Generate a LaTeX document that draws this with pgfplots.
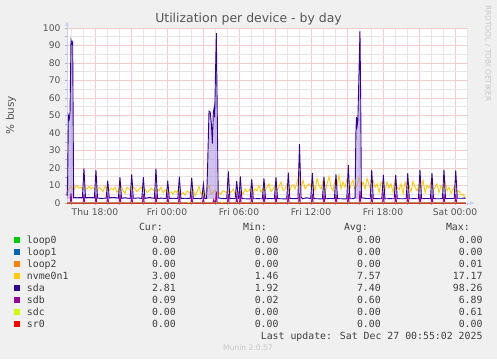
\documentclass[border=0pt]{standalone}
\usepackage{pgfplots}
\pgfplotsset{compat=1.18}
\usepackage{pgfplotstable}
\usetikzlibrary{arrows.meta}
\usepackage{fontspec}
\setmainfont{DejaVu Sans}
\newfontfamily\mono{DejaVu Sans Mono}
\definecolor{bg}{HTML}{F0F0F0}
\definecolor{mgrid}{HTML}{F4CCCC}
\definecolor{mingrid}{HTML}{E6E6E6}
\definecolor{axblue}{HTML}{C8D0F4}
\definecolor{txt}{HTML}{555555}
\definecolor{leg}{HTML}{404040}
\definecolor{cloopa}{HTML}{00CC00}
\definecolor{cloopb}{HTML}{0066B3}
\definecolor{cloopc}{HTML}{FF8000}
\definecolor{cnvme}{HTML}{FFCC00}
\definecolor{csda}{HTML}{330099}
\definecolor{csdb}{HTML}{990099}
\definecolor{csdc}{HTML}{CCFF00}
\definecolor{csr}{HTML}{FF0000}
\definecolor{sdafill}{HTML}{A890DE}
\definecolor{sdbfill}{HTML}{D890D8}
\pagecolor{bg}

\pgfplotstableread{
v
5.5
8
9.5
7
9
10
8.5
9
7.5
9
8
9.5
8
9
8
7.5
9
8
6.5
9.5
8
7
8.5
7.5
9
6
8.5
10
7
5.5
9
8
7
9.5
8
6.5
8
9
7.5
8
6
7
8.5
7.5
6.5
8
7
9
6
7.5
7
5.5
6.5
5
7
6
8.5
5
6
4.5
7
6
5.5
8
4
6.5
9.5
5
7
3.5
8
10
5
6
7.5
4
6
5
7
6.5
5.5
7
6
8
5
6.5
6
7
5
8
6.5
7
9
5.5
8
7
10
6
8.5
7
9
11
6.5
8
10
7
9.5
12
7
8
11
6
9
10.5
8
12
17.17
9
13
8
10
11
9
12
7
14
10
8
12.5
6
11
15
9
7
13
10
16
8
12
9
14
6
11
13
7.5
10
15
9
12
8
14
10.5
7
13
9
11
6
12
10
7
12
8.5
11
6
13
9
7.5
11
5
12
8
10
6.5
12.5
9
7
11
8
13
6
10
8.5
12
7
9
11
6
10
8
12
7
9
5.5
8
10
6
7
4.5
5
3
}\nvme

\pgfplotstableread{
t v
15.67 4
15.72 12
15.78 50
15.86 48
15.92 52
16.0 93
16.08 91
16.14 92
16.22 3.2
16.5 3.0
16.8 3.1
16.95 3
17.08 19.8
17.21 3
17.6 3.2
17.95 3
18.08 18.8
18.21 2.9
18.5 2.6
18.93 2.8
19.06 12.8
19.19 2.9
19.5 3.3
19.95 2.8
20.08 14.7
20.21 2.7
20.5 3.0
20.93 2.6
21.06 16.4
21.19 2.7
21.6 2.9
21.9 2.6
22.03 14.7
22.16 2.6
22.5 3.2
22.95 2.7
23.08 19.6
23.21 2.6
23.5 2.8
23.93 2.6
24.06 12.8
24.19 2.6
24.5 2.7
24.9 2.5
25.03 15
25.16 2.6
25.5 2.7
25.93 2.6
26.06 14.5
26.19 2.5
26.5 2.6
26.9 2.5
27.03 10.8
27.16 2.5
27.3 2.6
27.38 20
27.5 52.5
27.6 52
27.7 45
27.78 34
27.86 52
27.92 54
27.97 49
28.03 70
28.11 97
28.19 50
28.27 3
28.6 2.5
28.98 2.5
29.11 18
29.24 2.5
29.5 2.6
29.68 2.5
29.81 12.5
29.94 2.6
30.0 2.6
30.11 15.2
30.24 2.5
30.6 2.4
30.93 2.4
31.06 13.5
31.19 2.4
31.6 2.5
31.95 2.4
32.08 14
32.21 2.4
32.6 2.6
32.95 2.4
33.08 14.7
33.21 2.5
33.6 2.4
33.98 2.4
34.11 17.3
34.24 2.6
34.6 2.5
34.91 2.5
35.04 33.7
35.17 3.5
35.3 2.4
35.6 3.0
35.98 2.6
36.11 17
36.24 2.5
36.6 2.4
36.95 2.4
37.08 15
37.21 2.4
37.6 2.6
37.95 2.5
38.08 16.4
38.21 2.5
38.6 2.4
38.98 2.4
39.11 21.7
39.24 2.4
39.55 2.5
39.67 3
39.74 40
39.79 49
39.84 44
39.9 47
40.0 75
40.08 98.26
40.14 60
40.2 3
40.6 2.6
40.93 2.5
41.06 18.9
41.19 2.5
41.6 2.5
41.9 2.4
42.03 16
42.16 2.4
42.6 2.5
42.93 2.4
43.06 16
43.19 2.5
43.6 2.4
43.93 2.5
44.06 17
44.19 2.4
44.6 2.5
44.95 2.4
45.08 18.9
45.21 2.4
45.6 2.6
45.95 2.4
46.08 17
46.21 2.5
46.6 2.4
46.95 2.5
47.08 19
47.21 2.5
47.6 2.6
47.93 2.6
48.06 18.6
48.19 2.7
48.5 2.7
48.89 2.81
}\sda

\pgfplotstableread{
t v
15.67 0.1
15.93 0.1
16.0 5.5
16.07 0.1
17.01 0.1
17.08 5
17.15 0.1
18.01 0.1
18.08 4.5
18.15 0.1
18.99 0.1
19.06 4
19.13 0.1
20.01 0.1
20.08 5
20.15 0.1
20.99 0.1
21.06 4.5
21.13 0.1
21.96 0.1
22.03 5
22.1 0.1
23.01 0.1
23.08 4.5
23.15 0.1
23.99 0.1
24.06 4
24.13 0.1
24.96 0.1
25.03 4.5
25.1 0.1
25.99 0.1
26.06 4
26.13 0.1
26.96 0.1
27.03 3
27.1 0.1
27.83 0.1
27.9 2
27.97 0.1
28.04 0.1
28.11 6.5
28.18 0.1
29.04 0.1
29.11 5
29.18 0.1
29.74 0.1
29.81 4
29.88 0.1
30.04 0.1
30.11 4.5
30.18 0.1
30.99 0.1
31.06 4.5
31.13 0.1
32.01 0.1
32.08 5
32.15 0.1
33.01 0.1
33.08 4.5
33.15 0.1
34.04 0.1
34.11 5
34.18 0.1
34.97 0.1
35.04 5.5
35.11 0.1
36.04 0.1
36.11 5
36.18 0.1
37.01 0.1
37.08 4.5
37.15 0.1
38.01 0.1
38.08 5
38.15 0.1
39.04 0.1
39.11 5.5
39.18 0.1
40.01 0.1
40.08 6.89
40.15 0.1
40.99 0.1
41.06 5
41.13 0.1
41.96 0.1
42.03 4.5
42.1 0.1
42.99 0.1
43.06 5
43.13 0.1
43.99 0.1
44.06 4.5
44.13 0.1
45.01 0.1
45.08 5
45.15 0.1
46.01 0.1
46.08 4.5
46.15 0.1
47.01 0.1
47.08 5
47.15 0.1
47.99 0.1
48.06 5
48.13 0.1
48.89 0.09
}\sdb

\begin{document}
\begin{tikzpicture}[x=1bp,y=1bp]
\path (0,0) rectangle (497,359);
\node[font=\fontsize{12.5}{14}\selectfont, text=txt] at (248.5,340) {Utilization per device - by day};
\node[font=\fontsize{10.5}{12}\selectfont, text=txt, rotate=90] at (11,244) {\% busy};
\node[font=\fontsize{7.5}{9}\selectfont, text=black!22, rotate=-90, anchor=west, inner sep=0] at (488,354) {RRDTOOL / TOBI OETIKER};

\begin{axis}[
  at={(67bp,156bp)}, anchor=south west,
  width=401bp, height=175bp, scale only axis,
  xmin=15.667, xmax=49.083, ymin=0, ymax=100,
  clip=false,
  axis line style={draw=none},
  axis background/.style={fill=white},
  xtick={18,21,...,48},
  xticklabels={Thu 18:00,,Fri 00:00,,Fri 06:00,,Fri 12:00,,Fri 18:00,,Sat 00:00},
  minor xtick={16,17,...,49},
  ytick={0,10,...,100},
  minor ytick={5,15,...,95},
  grid=both,
  major grid style={mgrid, line width=0.8bp},
  minor grid style={mingrid, line width=0.8bp},
  xtick pos=bottom, ytick pos=left,
  tick align=outside,
  major tick length=2bp, minor tick length=2bp,
  tick style={black!30, line width=0.5bp},
  /pgf/number format/assume math mode=true,
  ticklabel style={font=\fontsize{9.2}{10}\selectfont, text=txt},
  yticklabel style={xshift=-1bp},
  xticklabel style={yshift=-0.5bp},
]
\draw[axblue, line width=0.8bp, -{Latex[length=5bp,width=4bp]}] (rel axis cs:0,0) -- ([yshift=7bp]rel axis cs:0,1);
\draw[axblue, line width=0.8bp, -{Latex[length=5bp,width=4bp]}] (rel axis cs:0,0) -- ([xshift=7bp]rel axis cs:1,0);

\addplot[cloopa, line width=0.8bp] coordinates {(15.67,0) (48.89,0)};
\addplot[cloopb, line width=0.8bp] coordinates {(15.67,0) (48.89,0)};
\addplot[cloopc, line width=0.8bp] coordinates {(15.67,0) (48.89,0.01)};
\addplot[cnvme, line width=0.9bp] table[x expr=\coordindex/6+15.67, y=v] {\nvme};

\begin{scope}
\clip (axis cs:15.6,2.5) rectangle (axis cs:49,100);
\addplot[fill=sdafill, fill opacity=0.55, draw=none] table[x=t, y=v] {\sda} \closedcycle;
\end{scope}
\addplot[fill=sdbfill, fill opacity=0.6, draw=none] table[x=t, y=v] {\sdb} \closedcycle;

\addplot[csda, line width=0.9bp] table[x=t, y=v] {\sda};
\addplot[csdb, line width=0.9bp] table[x=t, y=v] {\sdb};
\addplot[csdc, line width=0.8bp] coordinates {(15.67,0) (25.75,0) (25.8,0.61) (25.85,0) (28.55,0) (28.6,0.5) (28.65,0) (48.89,0)};
\addplot[csr, line width=0.8bp, opacity=0.55] coordinates {(15.67,0) (48.89,0)};
\end{axis}

% legend
\begin{scope}[font=\mono\fontsize{9.9}{11}\selectfont, text=leg]
\node[anchor=base east, inner sep=0] at (163,128.1) {Cur:};
\node[anchor=base east, inner sep=0] at (267,128.1) {Min:};
\node[anchor=base east, inner sep=0] at (368,128.1) {Avg:};
\node[anchor=base east, inner sep=0] at (470,128.1) {Max:};
\foreach \n/\c/\a/\b/\d/\e [count=\i from 0] in {
  loop0/cloopa/0.00/0.00/0.00/0.00,
  loop1/cloopb/0.00/0.00/0.00/0.00,
  loop2/cloopc/0.00/0.00/0.00/0.01,
  nvme0n1/cnvme/3.00/1.46/7.57/17.17,
  sda/csda/2.81/1.92/7.40/98.26,
  sdb/csdb/0.09/0.02/0.60/6.89,
  sdc/csdc/0.00/0.00/0.00/0.61,
  sr0/csr/0.00/0.00/0.00/0.00}{
  \pgfmathsetmacro{\yb}{115.4-11.95*\i}
  \pgfmathsetmacro{\yc}{119.0-11.95*\i}
  \fill[\c] (14,\yc-3) rectangle (20,\yc+3);
  \node[anchor=base west, inner sep=0] at (26.7,\yb) {\n};
  \node[anchor=base east, inner sep=0] at (176,\yb) {\a};
  \node[anchor=base east, inner sep=0] at (278.7,\yb) {\b};
  \node[anchor=base east, inner sep=0] at (381,\yb) {\d};
  \node[anchor=base east, inner sep=0] at (482.7,\yb) {\e};
}
\node[anchor=base east, inner sep=0] at (482.7,19.7) {Last update: Sat Dec 27 00:55:02 2025};
\end{scope}
\node[font=\fontsize{7.6}{9}\selectfont, text=black!22] at (248,11.3) {Munin 2.0.57};
\end{tikzpicture}
\end{document}
